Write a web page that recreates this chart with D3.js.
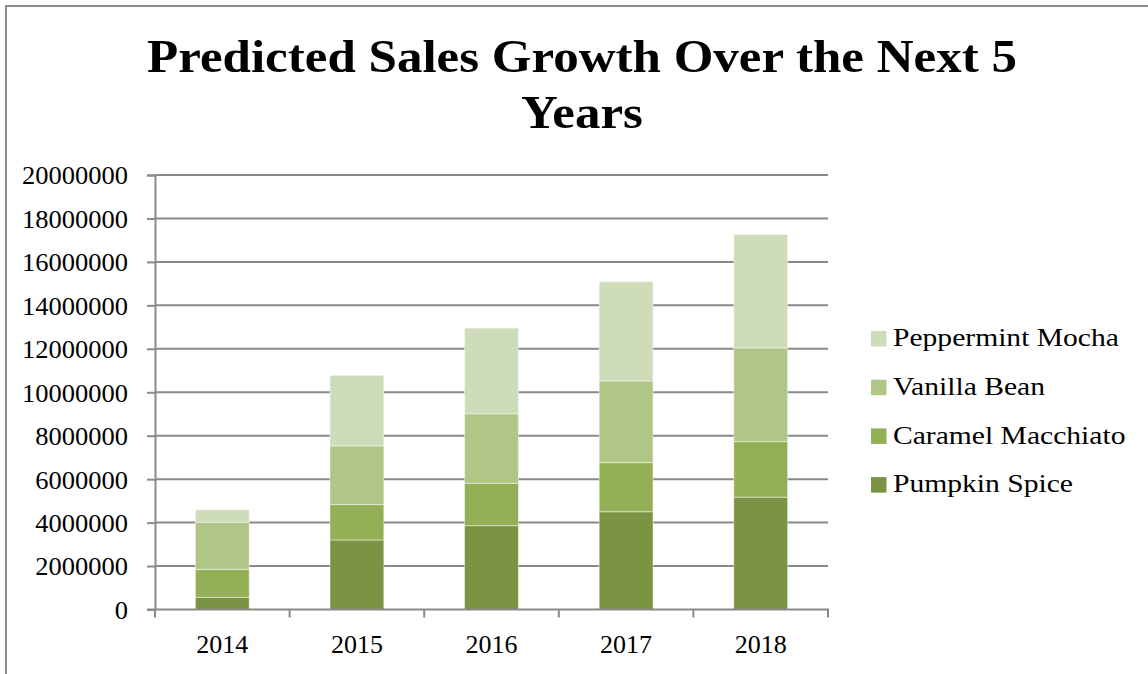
<!DOCTYPE html>
<html>
<head>
<meta charset="utf-8">
<script src="https://cdn.jsdelivr.net/npm/d3@7"></script>
<style>
  html, body { margin: 0; padding: 0; background: #fff; }
  svg { display: block; }
  text { font-family: "Liberation Serif", "DejaVu Serif", serif; fill: #000; }
</style>
</head>
<body>
<svg id="chart" width="1148" height="674"></svg>
<script>
// Years on the category axis
const years = ["2014", "2015", "2016", "2017", "2018"];

// Series, stacked bottom to top
const seriesNames = ["Pumpkin Spice", "Caramel Macchiato", "Vanilla Bean", "Peppermint Mocha"];
const pumpkinSpice      = [560000, 3200000, 3860000, 4500000, 5170000];
const caramelMacchiato  = [1290000, 1630000, 1950000, 2260000, 2560000];
const vanillaBean       = [2160000, 2700000, 3200000, 3760000, 4310000];
const peppermintMocha   = [580000, 3250000, 3940000, 4570000, 5220000];
const seriesColors = ["#7b9443", "#94b056", "#afc687", "#cfdcb9"];

// Value axis ticks
const yTicks = [0, 2000000, 4000000, 6000000, 8000000, 10000000, 12000000, 14000000, 16000000, 18000000, 20000000];

const titleLines = ["Predicted Sales Growth Over the Next 5", "Years"];

const svg = d3.select("#chart");
const W = 1148, H = 674;

// Outer frame
svg.append("rect")
  .attr("x", 6).attr("y", 6)
  .attr("width", W + 10).attr("height", H + 10)
  .attr("fill", "none").attr("stroke", "#8c8c8c").attr("stroke-width", 2);

const plot = { left: 155, right: 828, top: 175, bottom: 609.5 };

const x = d3.scaleBand().domain(years).range([plot.left, plot.right]).padding(0);
const y = d3.scaleLinear().domain([0, 20000000]).range([plot.bottom, plot.top]);

// Horizontal stretch that makes a sample string span a given width at a font size
function stretch(sample, size, width, weight) {
  const probe = svg.append("text").attr("font-size", size)
    .attr("font-weight", weight || "normal").text(sample);
  const w = probe.node().getComputedTextLength();
  probe.remove();
  return w > 0 ? width / w : 1;
}

// Title
const titleSize = 47;
const titleSx = stretch(titleLines[0], titleSize, 870, "bold");
svg.append("g").selectAll("text")
  .data(titleLines)
  .join("text")
  .attr("transform", (d, i) => `translate(582,${72 + i * 56}) scale(${titleSx},1)`)
  .attr("text-anchor", "middle").attr("font-weight", "bold")
  .attr("font-size", titleSize)
  .text(d => d);

// Gridlines and y ticks
const labelSize = 26;
const yAxis = d3.axisLeft(y).tickValues(yTicks).tickSize(8).tickFormat(d3.format("d"));
const gy = svg.append("g").attr("transform", `translate(${plot.left},0)`).call(yAxis);
gy.attr("font-family", null).attr("font-size", null);
gy.select(".domain").attr("stroke", "#898989").attr("stroke-width", 2);
gy.selectAll(".tick line").attr("stroke", "#898989").attr("stroke-width", 2);
const tickSx = stretch("20000000", labelSize, 106);
gy.selectAll(".tick text")
  .attr("x", null).attr("dy", "0.34em")
  .attr("transform", `translate(-27,0) scale(${tickSx},1)`)
  .attr("font-size", labelSize);

svg.append("g").selectAll("line")
  .data(yTicks.filter(d => d > 0))
  .join("line")
  .attr("x1", plot.left).attr("x2", plot.right)
  .attr("y1", d => y(d)).attr("y2", d => y(d))
  .attr("stroke", "#898989").attr("stroke-width", 2);

// Stacked bars
const rows = years.map((yr, i) => ({
  year: yr,
  "Pumpkin Spice": pumpkinSpice[i],
  "Caramel Macchiato": caramelMacchiato[i],
  "Vanilla Bean": vanillaBean[i],
  "Peppermint Mocha": peppermintMocha[i]
}));
const stacked = d3.stack().keys(seriesNames)(rows);
const barW = x.bandwidth() * 0.4;

svg.append("g").selectAll("g")
  .data(stacked)
  .join("g")
  .attr("fill", (d, i) => seriesColors[i])
  .selectAll("rect")
  .data(d => d)
  .join("rect")
  .attr("x", d => x(d.data.year) + (x.bandwidth() - barW) / 2)
  .attr("width", barW)
  .attr("y", d => y(d[1]))
  .attr("height", d => y(d[0]) - y(d[1]))
  .attr("stroke", "rgba(255,255,255,0.45)")
  .attr("stroke-width", 1);

// X axis
const xAxis = d3.axisBottom(x).tickSize(0);
const gx = svg.append("g").attr("transform", `translate(0,${plot.bottom})`).call(xAxis);
gx.attr("font-family", null).attr("font-size", null);
gx.select(".domain").remove();
gx.selectAll(".tick text").attr("dy", 0).attr("y", 43)
  .attr("font-size", labelSize);
svg.append("line")
  .attr("x1", plot.left - 8).attr("x2", plot.right + 1)
  .attr("y1", plot.bottom).attr("y2", plot.bottom)
  .attr("stroke", "#898989").attr("stroke-width", 2);
// category separator ticks
const sepPos = years.map(d => x(d)).concat([plot.right]);
svg.append("g").selectAll("line")
  .data(sepPos)
  .join("line")
  .attr("x1", d => d).attr("x2", d => d)
  .attr("y1", plot.bottom).attr("y2", plot.bottom + 8)
  .attr("stroke", "#898989").attr("stroke-width", 2);

// Legend (top entry is the top of the stack)
const legendSx = stretch("Peppermint Mocha", labelSize, 226);
const legendItems = seriesNames.map((n, i) => ({ name: n, color: seriesColors[i] })).reverse();
const lg = svg.append("g").selectAll("g")
  .data(legendItems)
  .join("g")
  .attr("transform", (d, i) => `translate(871,${338.5 + i * 48.7})`);
lg.append("rect").attr("x", 0).attr("y", -7.5).attr("width", 15.5).attr("height", 15.5)
  .attr("fill", d => d.color);
lg.append("text")
  .attr("transform", `translate(22,0) scale(${legendSx},1)`)
  .attr("dy", "0.3em").attr("font-size", labelSize)
  .text(d => d.name);
</script>
</body>
</html>
